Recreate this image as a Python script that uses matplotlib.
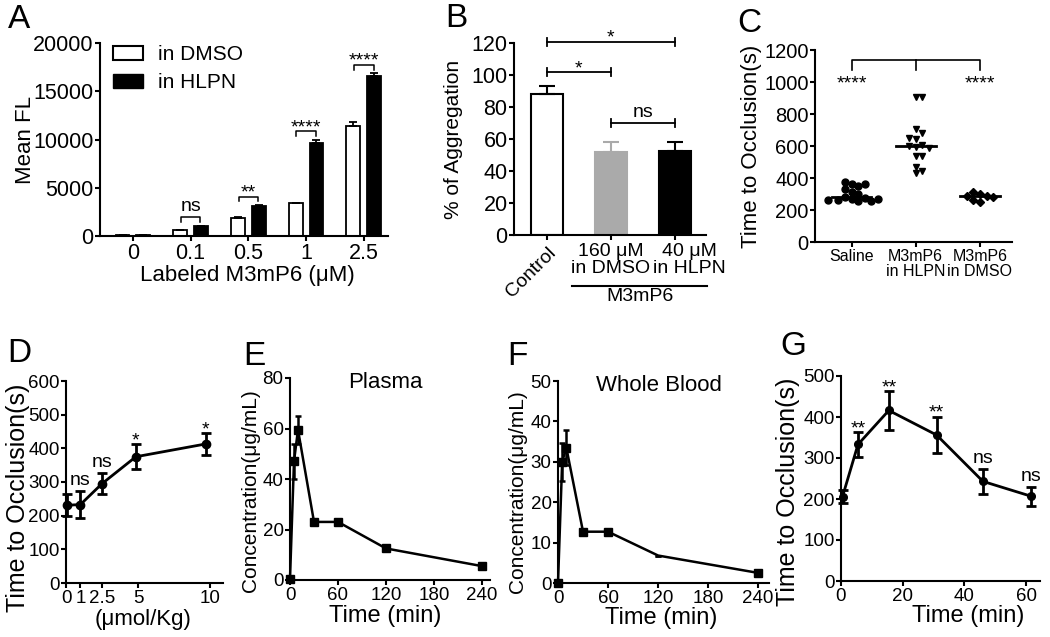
import numpy as np
import matplotlib
matplotlib.use('Agg')
import matplotlib.pyplot as plt
from matplotlib.patches import Patch
from matplotlib.transforms import blended_transform_factory

plt.rcParams['font.family'] = ['Liberation Sans', 'DejaVu Sans']
plt.rcParams['axes.linewidth'] = 1.5
plt.rcParams['xtick.major.width'] = 1.5
plt.rcParams['ytick.major.width'] = 1.5
plt.rcParams['xtick.major.size'] = 3.6
plt.rcParams['ytick.major.size'] = 3.6
plt.rcParams['xtick.major.pad'] = 1.5
plt.rcParams['ytick.major.pad'] = 1

W, H = 1050, 637

# ---- A: labelled peptide uptake ----
a_conc = ['0', '0.1', '0.5', '1', '2.5']
a_dmso = [150, 650, 1850, 3400, 11450]
a_dmso_err = [0, 0, 80, 60, 350]
a_hlpn = [150, 1000, 3120, 9650, 16600]
a_hlpn_err = [0, 60, 60, 280, 250]
a_sig = ['', 'ns', '**', '****', '****']

# ---- B: aggregation ----
b_groups = ['Control', '160 μM\nin DMSO', '40 μM\nin HLPN']
b_aggr = [88, 52, 53]
b_err = [5.5, 6.5, 5.5]
b_colors = ['white', '#aaaaaa', 'black']
b_edges = ['black', '#aaaaaa', 'black']
b_pairs = [(0, 1), (0, 2), (1, 2)]
b_pair_y = [102, 121, 70]
b_pair_sig = ['*', '*', 'ns']

# ---- C: occlusion time scatter ----
c_groups = ['Saline', 'M3mP6\nin HLPN', 'M3mP6\nin DMSO']
c_saline = [364, 351, 378, 364, 331, 316, 300, 285, 278, 272, 262, 258, 255, 262, 268]
c_hlpn = [908, 905, 705, 680, 642, 650, 607, 597, 600, 590, 538, 540, 472, 430, 447]
c_dmso = [299, 289, 316, 285, 287, 264, 254]
c_markers = ['o', 'v', 'D']

# ---- D: dose response ----
d_dose = [0.1, 1, 2.5, 4.85, 9.7]
d_dose_ticks = [0, 1, 2.5, 5, 10]
d_time = [231, 233, 295, 375, 413]
d_err = [32, 41, 31, 37, 32]
d_sig = ['', 'ns', 'ns', '*', '*']

# ---- E / F: pharmacokinetics ----
pk_time = [0, 5, 10, 30, 60, 120, 240]
e_conc = [0.5, 47, 59.5, 23, 23, 12.5, 5.5]
e_err = [0, 7, 5.5, 0.5, 0.5, 0.8, 0.8]
f_conc = [0, 30, 33.5, 12.7, 12.7, 6.8, 2.5]
f_err = [0, 4.7, 4.4, 0, 0, 0, 0]

# ---- G: time course ----
g_time = [0.5, 5.5, 15.5, 31, 46, 61.5]
g_occl = [206, 333, 416, 356, 243, 207]
g_err = [16, 30, 47, 45, 30, 23]
g_sig = ['', '**', '**', '**', 'ns', 'ns']

fig = plt.figure(figsize=(W / 100, H / 100), dpi=100)


def new_ax(l, t, r, b):
    ax = fig.add_axes([l / W, 1 - b / H, (r - l) / W, (b - t) / H])
    ax.spines[['top', 'right']].set_visible(False)
    return ax


def letter(x, y, s):
    fig.text(x / W, 1 - y / H, s, fontsize=24, ha='left', va='baseline')


def sig_text(ax, x, y, s, size=14):
    # asterisks sit high in the em box, so they need less lift than "ns"
    dy = -1 if '*' in s else 6
    ax.annotate(s, (x, y), xytext=(0, dy), textcoords='offset pixels',
                ha='center', va='baseline', fontsize=size, annotation_clip=False)


def set_labels(ax, ylab, yfs, yx, yc, xlab=None, xfs=16, xc=0.5, xy=None):
    ax.set_ylabel(ylab, fontsize=yfs)
    ax.yaxis.set_label_coords(yx, yc)
    if xlab:
        ax.set_xlabel(xlab, fontsize=xfs)
        ax.xaxis.label.set_verticalalignment('center')
        ax.xaxis.set_label_coords(xc, xy)


def noclip(cont):
    for art in cont.get_children():
        art.set_clip_on(False)


def swarm(vals, ppu_x, ppu_y, d):
    placed, offs = [], []
    for v in vals:
        y = v * ppu_y
        k = 0
        while True:
            off = (d / 2) * ((k + 1) // 2) * (1 if k % 2 else -1)
            if all(np.hypot(off - px, y - py) >= d for px, py in placed):
                break
            k += 1
        placed.append((off, y))
        offs.append(off / ppu_x)
    return np.array(offs)


# ================= A =================
ax = new_ax(100, 43, 388, 236)
x = np.arange(len(a_conc))
ax.bar(x - 0.18, a_dmso, 0.24, color='white', edgecolor='black', lw=1.3)
ax.bar(x + 0.18, a_hlpn, 0.24, color='black', edgecolor='black', lw=1.3)
ax.errorbar(x - 0.18, a_dmso, yerr=[np.zeros(5), a_dmso_err], fmt='none',
            ecolor='black', elinewidth=1.3, capsize=3, capthick=1.3)
ax.errorbar(x + 0.18, a_hlpn, yerr=[np.zeros(5), a_hlpn_err], fmt='none',
            ecolor='black', elinewidth=1.3, capsize=3, capthick=1.3)
for i, s in enumerate(a_sig):
    if not s:
        continue
    y = max(a_dmso[i] + a_dmso_err[i], a_hlpn[i] + a_hlpn_err[i]) + 900
    ax.plot([i - 0.17, i - 0.17, i + 0.17, i + 0.17], [y - 500, y, y, y - 500],
            color='black', lw=1.1, clip_on=False)
    sig_text(ax, i, y, s)
ax.set_xlim(-0.57, 4.42)
ax.set_ylim(0, 20000)
ax.set_xticks(x, a_conc, fontsize=15.5)
ax.set_yticks(range(0, 20001, 5000))
ax.tick_params(axis='y', labelsize=15.5)
set_labels(ax, 'Mean FL', 16, -0.222, 0.5,
           'Labeled M3mP6 (μM)', 16, 0.51, (236 - 276) / 193)
ax.legend(handles=[Patch(facecolor='white', edgecolor='black', lw=1.5),
                   Patch(facecolor='black', edgecolor='black')],
          labels=['in DMSO', 'in HLPN'], loc='upper left',
          bbox_to_anchor=(0.045, 0.99), frameon=False, fontsize=15,
          borderaxespad=0, borderpad=0, handlelength=1.45, handleheight=0.65,
          handletextpad=0.7, labelspacing=0.45)
letter(8, 28, 'A')

# ================= B =================
ax = new_ax(514, 43.3, 706, 235.3)
xb = np.arange(len(b_groups))
ax.bar(xb, b_aggr, 0.5, color=b_colors, edgecolor=b_edges, lw=1.5)
for i in range(len(b_groups)):
    ax.errorbar(xb[i], b_aggr[i], yerr=[[0], [b_err[i]]], fmt='none',
                ecolor=b_edges[i], elinewidth=1.5, capsize=6, capthick=1.5)
for (i0, i1), y, s in zip(b_pairs, b_pair_y, b_pair_sig):
    ax.plot([i0, i1], [y, y], color='black', lw=1.3, clip_on=False)
    ax.plot([i0, i0], [y - 2.5, y + 2.5], color='black', lw=1.3, clip_on=False)
    ax.plot([i1, i1], [y - 2.5, y + 2.5], color='black', lw=1.3, clip_on=False)
    sig_text(ax, (i0 + i1) / 2, y, s)
ax.set_xlim(-0.51, 2.48)
ax.set_ylim(0, 120)
ax.set_yticks(range(0, 121, 20))
ax.tick_params(axis='y', labelsize=15.5)
ax.set_xticks(xb, ['', '', ''])
ax.annotate(b_groups[0], (0, 0), xycoords=('data', 'axes fraction'),
            xytext=(1, -9), textcoords='offset pixels', rotation=45,
            rotation_mode='anchor', ha='right', va='top', fontsize=14)
for i, dx in zip([1, 2], [0, 14]):
    ax.annotate(b_groups[i], (i, 0), xycoords=('data', 'axes fraction'),
                xytext=(dx, -8), textcoords='offset pixels', ha='center',
                va='top', fontsize=14, linespacing=1.0)
tb = blended_transform_factory(ax.transData, ax.transAxes)
ax.plot([0.39, 2.5], [-0.264, -0.264], color='black', lw=1.5,
        transform=tb, clip_on=False)
ax.text(1.45, -0.275, 'M3mP6', transform=tb, ha='center', va='top', fontsize=14)
set_labels(ax, '% of Aggregation', 15, -0.266, 0.5)
letter(445, 27, 'B')

# ================= C =================
ax = new_ax(815, 50, 1012, 242.3)
ppu_x = 197 / 3.07
ppu_y = 192.3 / 1200
for i, (vals, m) in enumerate(zip([c_saline, c_hlpn, c_dmso], c_markers)):
    offs = swarm(vals, ppu_x, ppu_y, 6.6)
    ax.plot(i + offs, vals, m, color='black', ms=5 if m != 'D' else 4.2,
            linestyle='none', clip_on=False)
    med = np.median(vals)
    ax.plot([i - 0.31, i + 0.31], [med, med], color='black', lw=2)
ax.plot([0, 0, 2, 2], [1075, 1137, 1137, 1075], color='black', lw=1.2, clip_on=False)
ax.plot([1, 1], [1075, 1137], color='black', lw=1.2, clip_on=False)
ax.text(0, 960, '****', ha='center', va='baseline', fontsize=14)
ax.text(2, 960, '****', ha='center', va='baseline', fontsize=14)
ax.set_xlim(-0.57, 2.5)
ax.set_ylim(0, 1200)
ax.set_yticks(range(0, 1201, 200))
ax.tick_params(axis='y', labelsize=14.5)
ax.set_xticks(range(3), c_groups, fontsize=11.5, linespacing=1.0)
set_labels(ax, 'Time to Occlusion(s)', 16, -0.269, 0.5)
letter(737, 32, 'C')

# ================= D =================
ax = new_ax(66, 381, 223, 583)
cont = ax.errorbar(d_dose, d_time, yerr=d_err, fmt='-o', color='black', lw=2,
                   ms=6, elinewidth=2, capsize=3.5, capthick=2)
noclip(cont)
for xv, yv, e, s in zip(d_dose, d_time, d_err, d_sig):
    if s:
        sig_text(ax, xv, yv + e, s)
ax.set_xlim(0, 10.9)
ax.set_ylim(0, 600)
ax.set_xticks(d_dose_ticks, [f'{v:g}' for v in d_dose_ticks])
ax.set_yticks(range(0, 601, 100))
ax.tick_params(labelsize=13.5)
set_labels(ax, 'Time to Occlusion(s)', 18, -0.229, (583 - 498) / 202,
           '(μmol/Kg)', 16, 0.49, (583 - 620) / 202)
letter(7, 362, 'D')

# ================= E =================
ax = new_ax(290, 378, 490, 580)
cont = ax.errorbar(pk_time, e_conc, yerr=e_err, fmt='-s', color='black', lw=1.8,
                   ms=5.5, elinewidth=1.8, capsize=2.5, capthick=1.8)
noclip(cont)
ax.set_xlim(0, 250)
ax.set_ylim(0, 80)
ax.set_xticks(range(0, 241, 60))
ax.set_yticks(range(0, 81, 20))
ax.tick_params(labelsize=13.5)
ax.text(0.475, 0.98, 'Plasma', transform=ax.transAxes, ha='center', va='center',
        fontsize=16)
set_labels(ax, 'Concentration(μg/mL)', 15, -0.15, (580 - 491) / 202,
           'Time (min)', 17, 0.475, (580 - 616) / 202)
letter(243, 365, 'E')

# ================= F =================
ax = new_ax(558, 381, 769, 583)
ax.plot(pk_time, f_conc, '-s', color='black', lw=1.8, ms=5.5,
        markevery=[0, 1, 2, 3, 4, 6], clip_on=False)
cont = ax.errorbar(pk_time, f_conc, yerr=f_err, fmt='none', ecolor='black',
                   elinewidth=1.8, capsize=2.5, capthick=1.8)
noclip(cont)
ax.set_xlim(0, 253)
ax.set_ylim(0, 50)
ax.set_xticks(range(0, 241, 60))
ax.set_yticks(range(0, 51, 10))
ax.tick_params(labelsize=13.5)
ax.text(0.48, 0.98, 'Whole Blood', transform=ax.transAxes, ha='center',
        va='center', fontsize=16)
set_labels(ax, 'Concentration(μg/mL)', 15, -0.147, (583 - 492) / 202,
           'Time (min)', 17, 0.49, (583 - 618) / 202)
letter(507, 365, 'F')

# ================= G =================
ax = new_ax(841, 376, 1040, 581)
cont = ax.errorbar(g_time, g_occl, yerr=g_err, fmt='-o', color='black', lw=2,
                   ms=5.5, elinewidth=2, capsize=3.5, capthick=2)
noclip(cont)
for xv, yv, e, s in zip(g_time, g_occl, g_err, g_sig):
    if s:
        sig_text(ax, xv, yv + e, s)
ax.set_xlim(0, 64.5)
ax.set_ylim(0, 500)
ax.set_xticks(range(0, 61, 20))
ax.set_yticks(range(0, 501, 100))
ax.tick_params(labelsize=13.5)
set_labels(ax, 'Time to Occlusion(s)', 18, -0.206, (581 - 492) / 205,
           'Time (min)', 17, 0.64, (581 - 616) / 205)
letter(780, 355, 'G')

fig.savefig('out.png', dpi=100)
